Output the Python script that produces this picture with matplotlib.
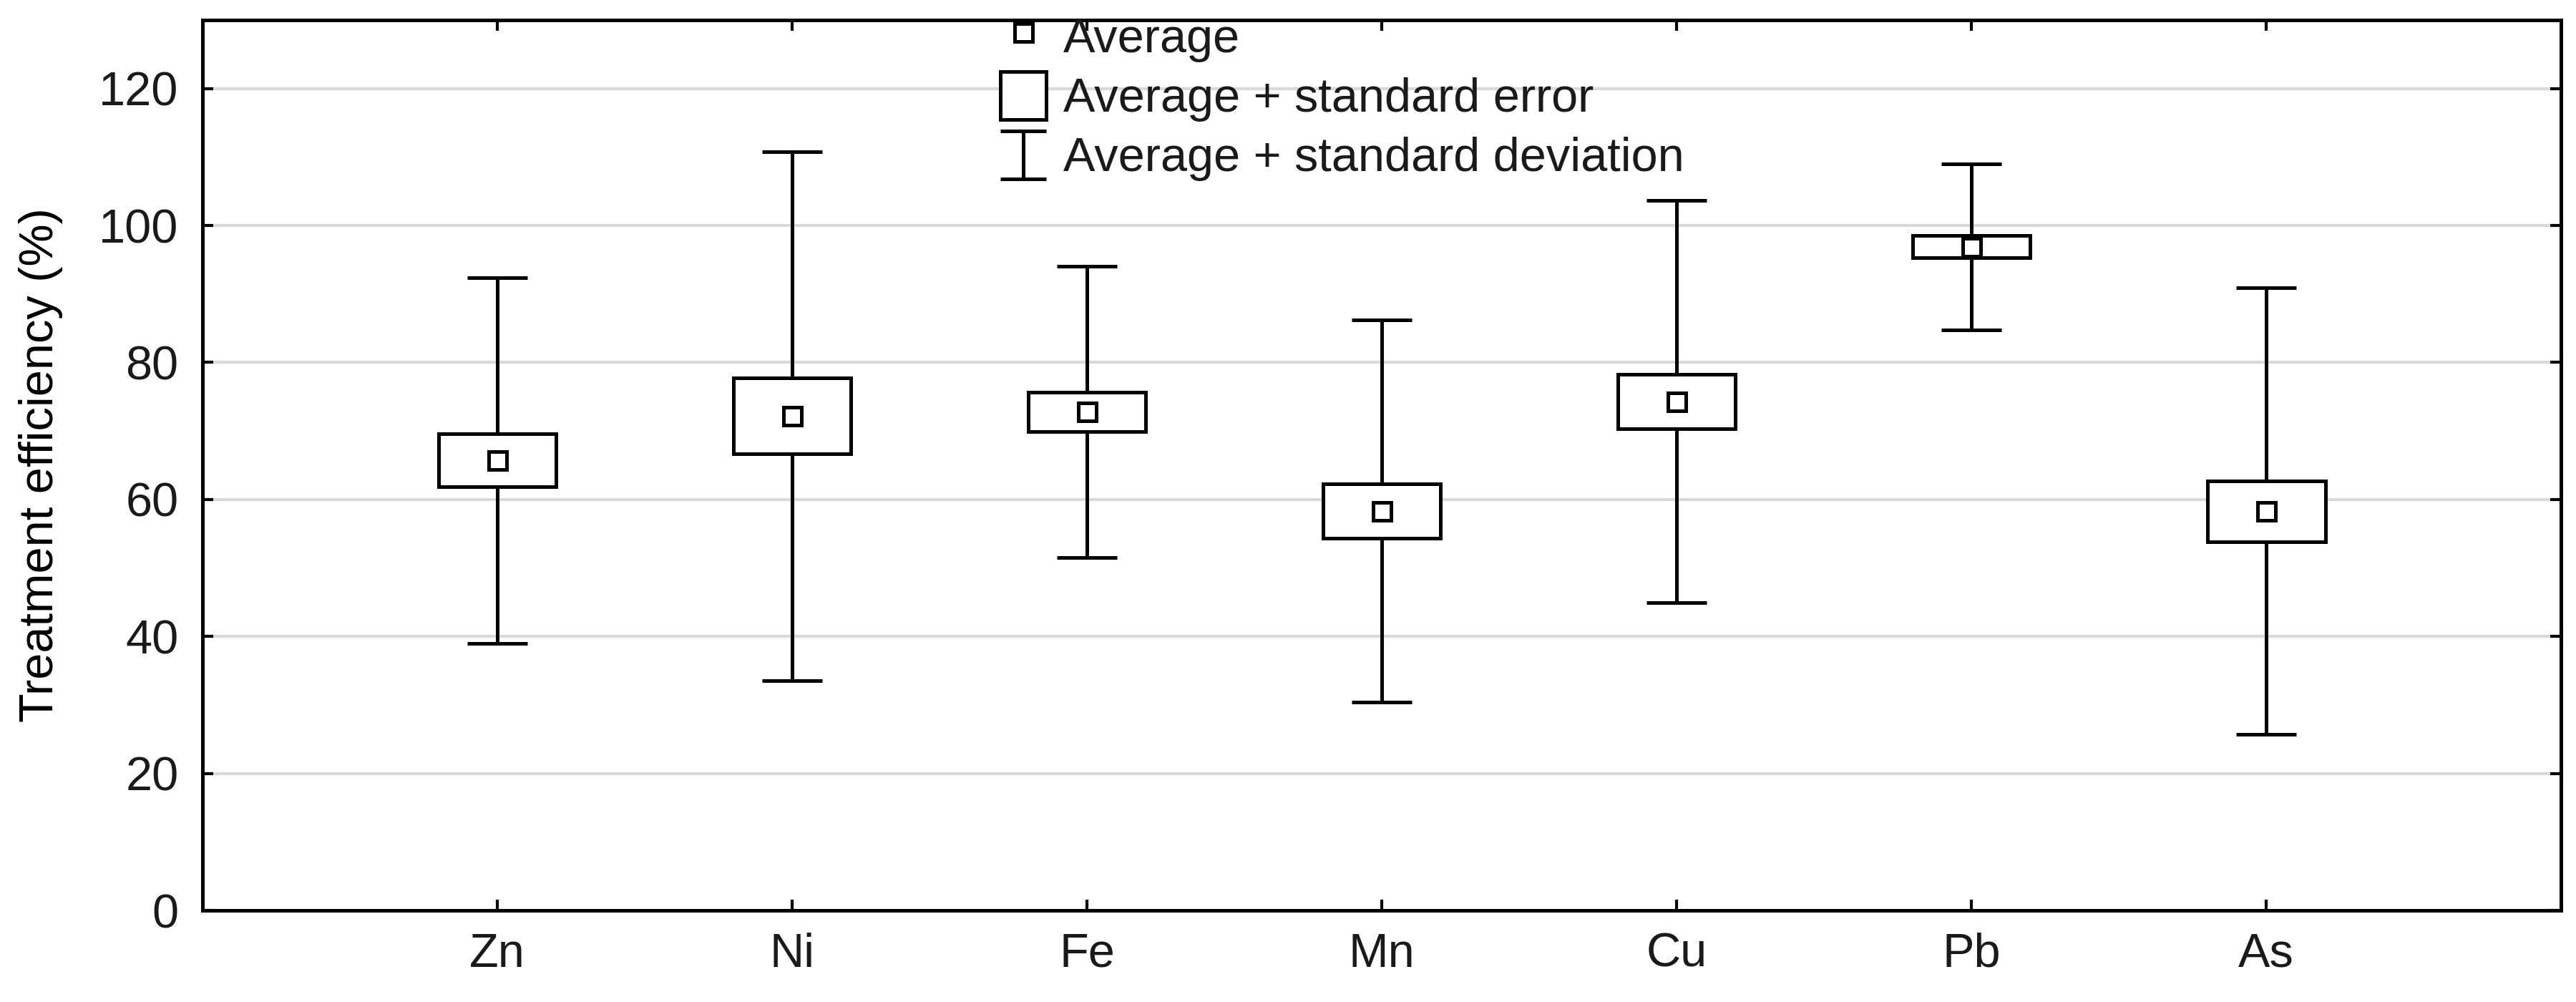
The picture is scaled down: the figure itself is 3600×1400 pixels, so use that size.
import matplotlib
matplotlib.use("Agg")
import matplotlib.pyplot as plt
from matplotlib.lines import Line2D
from matplotlib.patches import Patch
from matplotlib.legend_handler import HandlerBase

# metais e eficiencia de tratamento (%)
metais = ["Zn", "Ni", "Fe", "Mn", "Cu", "Pb", "As"]
media = [65.7, 72.2, 72.8, 58.3, 74.3, 96.9, 58.3]
erro_padrao = [3.85, 5.5, 2.9, 3.95, 3.95, 1.6, 4.45]
desvio_padrao = [26.7, 38.6, 21.3, 27.9, 29.4, 12.1, 32.6]

plt.rcParams["font.family"] = ["Liberation Sans", "DejaVu Sans"]
plt.rcParams["font.size"] = 48
plt.rcParams["text.color"] = "#1a1a1a"

lw = 3.6


class HandlerIBeam(HandlerBase):
    # simbolo da legenda para o desvio padrao (barra em I)
    def create_artists(self, legend, orig_handle, xdescent, ydescent,
                       width, height, fontsize, trans):
        x0, y0 = -xdescent, -ydescent
        xm = x0 + width / 2
        partes = [
            Line2D([xm, xm], [y0, y0 + height]),
            Line2D([x0, x0 + width], [y0, y0]),
            Line2D([x0, x0 + width], [y0 + height, y0 + height]),
        ]
        for p in partes:
            p.set_color("black")
            p.set_linewidth(lw)
            p.set_solid_capstyle("butt")
            p.set_transform(trans)
        return partes


fig, ax = plt.subplots(figsize=(36, 14), dpi=100)
fig.subplots_adjust(left=0.0786, right=0.9942, top=0.98, bottom=0.0914)

x = list(range(1, len(metais) + 1))
base = [m - e for m, e in zip(media, erro_padrao)]
altura = [2 * e for e in erro_padrao]

ax.errorbar(x, media, yerr=desvio_padrao, fmt="none", ecolor="black",
            elinewidth=lw, capsize=30, capthick=lw, zorder=2)
ax.bar(x, altura, bottom=base, width=0.4, color="white", edgecolor="black",
       linewidth=lw, zorder=3)
ax.plot(x, media, "s", ms=18, mfc="white", mec="black", mew=lw, zorder=4)

ax.set_xlim(0, 8)
ax.set_ylim(0, 130)
ax.set_xticks(x)
ax.set_xticklabels(metais)
ax.set_yticks(range(0, 121, 20))
ax.yaxis.grid(True, color="#d9d9d9", linewidth=3)
ax.set_axisbelow(True)

ax.tick_params(axis="both", direction="in", length=11, width=3,
               top=True, right=True, colors="black", labelcolor="#1a1a1a")
ax.tick_params(axis="x", pad=22)
ax.tick_params(axis="y", pad=24)
for s in ax.spines.values():
    s.set_linewidth(lw)

ax.set_ylabel("Treatment efficiency (%)")
ax.yaxis.set_label_coords(-0.059, 0.5)

h_media = Line2D([], [], marker="s", ls="none", ms=18, mfc="white",
                 mec="black", mew=lw)
h_erro = Patch(facecolor="white", edgecolor="black", linewidth=lw)
h_desvio = Line2D([], [], color="black", lw=lw)
ax.legend([h_media, h_erro, h_desvio],
          ["Average", "Average + standard error", "Average + standard deviation"],
          handler_map={h_desvio: HandlerIBeam()},
          loc="upper left", bbox_to_anchor=(1398 / 3600, 1 - 17 / 1400),
          bbox_transform=fig.transFigure, frameon=False, numpoints=1,
          handlelength=0.96, handleheight=1.16, handletextpad=0.36,
          labelspacing=0.2, borderpad=0, borderaxespad=0)

plt.savefig("out.png", dpi=100)
